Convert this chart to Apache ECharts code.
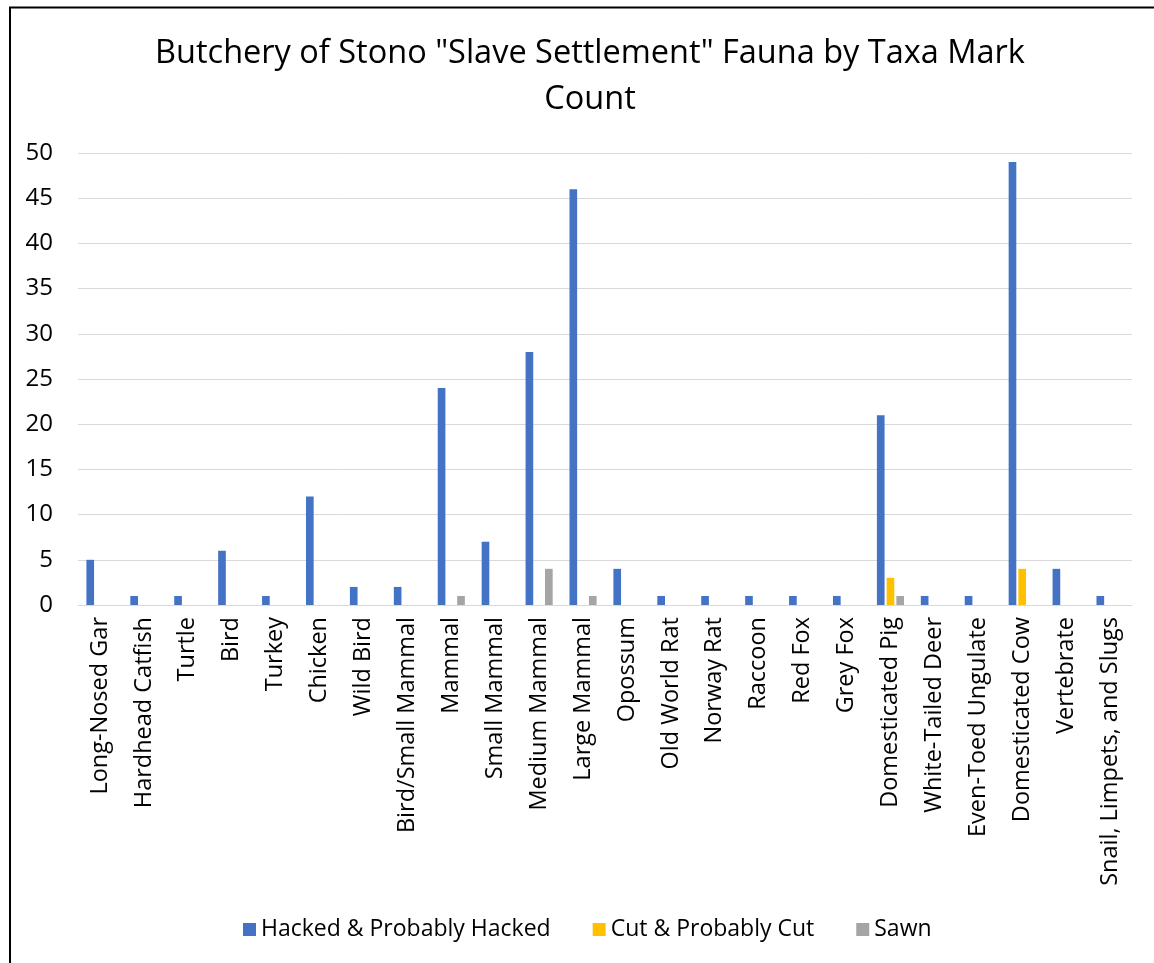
<!DOCTYPE html>
<html>
<head>
<meta charset="utf-8">
<script src="https://cdn.jsdelivr.net/npm/echarts@6/dist/echarts.min.js"></script>
<style>html,body{margin:0;padding:0;background:#fff}#c{width:1154px;height:963px}</style>
</head>
<body>
<div id="c"></div>
<script>
const categories = ["Long-Nosed Gar","Hardhead Catfish","Turtle","Bird","Turkey","Chicken","Wild Bird","Bird/Small Mammal","Mammal","Small Mammal","Medium Mammal","Large Mammal","Opossum","Old World Rat","Norway Rat","Raccoon","Red Fox","Grey Fox","Domesticated Pig","White-Tailed Deer","Even-Toed Ungulate","Domesticated Cow","Vertebrate","Snail, Limpets, and Slugs"];
const hacked = [5,1,1,6,1,12,2,2,24,7,28,46,4,1,1,1,1,1,21,1,1,49,4,1];
const cut    = [0,0,0,0,0,0,0,0,0,0,0,0,0,0,0,0,0,0,3,0,0,4,0,0];
const sawn   = [0,0,0,0,0,0,0,0,1,0,4,1,0,0,0,0,0,0,1,0,0,0,0,0];
const seriesNames = ["Hacked & Probably Hacked","Cut & Probably Cut","Sawn"];
const yTicks = {min:0,max:50,interval:5};

const font = "'Open Sans', 'Noto Sans', sans-serif";
const chart = echarts.init(document.getElementById('c'));
const bw = 7.66;
chart.setOption({
  animation:false,
  backgroundColor:'#fff',
  title:{text:'Butchery of Stono "Slave Settlement" Fauna by Taxa Mark\nCount',left:585,textAlign:'center',top:26,
    textStyle:{fontFamily:font,fontSize:32.5,fontWeight:'normal',color:'#000',lineHeight:46}},
  legend:{top:913,left:238,itemWidth:13,itemHeight:13,itemGap:42,icon:'rect',
    textStyle:{fontFamily:font,fontSize:23,color:'#000'},data:seriesNames},
  grid:{left:78,right:22,top:153,bottom:358,containLabel:false},
  xAxis:{type:'category',data:categories,
    axisLine:{lineStyle:{color:'#d9d9d9',width:1}},axisTick:{show:false},
    axisLabel:{rotate:90,interval:0,margin:12,fontFamily:font,fontSize:23.5,color:'#000'}},
  yAxis:{type:'value',min:yTicks.min,max:yTicks.max,interval:yTicks.interval,
    axisLine:{show:false},axisTick:{show:false},
    splitLine:{lineStyle:{color:'#d9d9d9',width:1}},
    axisLabel:{margin:25,fontFamily:font,fontSize:24,color:'#000'}},
  series:[
    {name:seriesNames[0],type:'bar',data:hacked,barWidth:bw,barGap:'27%',itemStyle:{color:'#4472C4'}},
    {name:seriesNames[1],type:'bar',data:cut,barWidth:bw,barGap:'27%',itemStyle:{color:'#FFC000'}},
    {name:seriesNames[2],type:'bar',data:sawn,barWidth:bw,barGap:'27%',itemStyle:{color:'#A5A5A5'}}
  ],
  graphic:[{type:'rect',shape:{x:10,y:7.5,width:1200,height:1000},style:{fill:'none',stroke:'#000',lineWidth:2},silent:true}]
});
</script>
</body>
</html>
